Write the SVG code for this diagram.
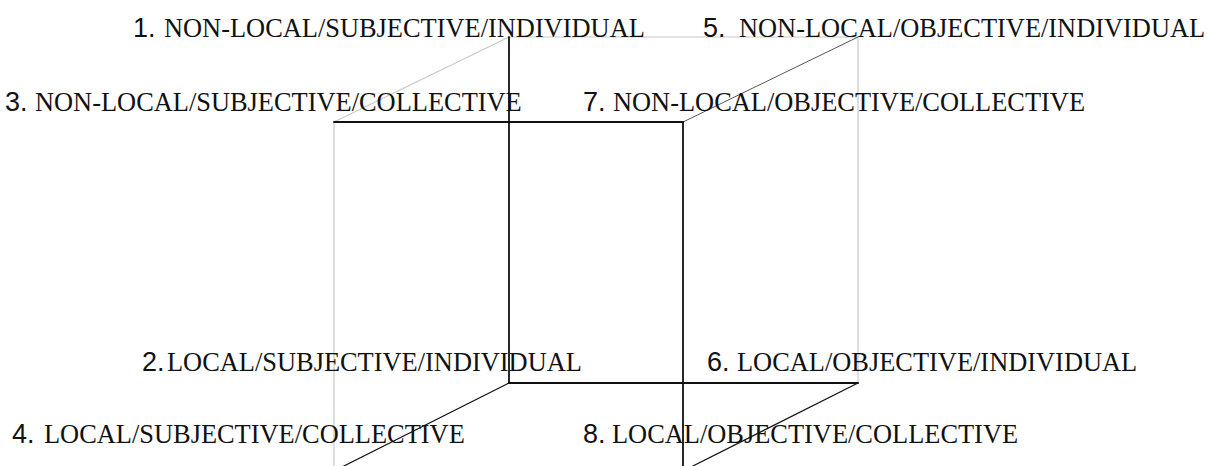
<svg xmlns="http://www.w3.org/2000/svg" width="1207" height="466" viewBox="0 0 1207 466">
<style>
.num{font-family:"Liberation Sans",Arial,sans-serif;font-size:27px;fill:#111}
.lbl{font-family:"Liberation Serif","Times New Roman",serif;font-size:26.4px;fill:#111}
.dk{stroke:#111;stroke-width:1.8;fill:none;stroke-linecap:round}
.md{stroke:#555;stroke-width:1;fill:none}
.lt{stroke:#c8c8c8;stroke-width:1.2;fill:none}
</style>
<rect width="1207" height="466" fill="#fff"/>
<g id="cube">
<line class="lt" x1="509" y1="37" x2="858" y2="37"/>
<line class="lt" x1="509" y1="37" x2="334" y2="122"/>
<line class="lt" x1="334" y1="122" x2="334" y2="466"/>
<line class="lt" x1="858" y1="37" x2="858" y2="383"/>
<line class="md" x1="683" y1="122" x2="858" y2="37"/>
<line class="dk" x1="334" y1="122" x2="683" y2="122"/>
<line class="dk" x1="509" y1="37" x2="509" y2="383"/>
<line class="dk" x1="683" y1="122" x2="683" y2="466"/>
<line class="dk" x1="509" y1="383" x2="858" y2="383"/>
<line class="dk" style="stroke-width:1.2" x1="509" y1="383" x2="334" y2="471"/>
<line class="dk" style="stroke-width:1.2" x1="858" y1="383" x2="683" y2="471"/>
</g>
<g id="label1"><text y="37"><tspan class="num" x="133">1.</tspan><tspan class="lbl" x="164">NON-LOCAL/SUBJECTIVE/INDIVIDUAL</tspan></text></g>
<g id="label5"><text y="37"><tspan class="num" x="703">5.</tspan><tspan class="lbl" x="739">NON-LOCAL/OBJECTIVE/INDIVIDUAL</tspan></text></g>
<g id="label3"><text y="111"><tspan class="num" x="5">3.</tspan><tspan class="lbl" x="35">NON-LOCAL/SUBJECTIVE/COLLECTIVE</tspan></text></g>
<g id="label7"><text y="111"><tspan class="num" x="583">7.</tspan><tspan class="lbl" x="613">NON-LOCAL/OBJECTIVE/COLLECTIVE</tspan></text></g>
<g id="label2"><text y="371"><tspan class="num" x="142">2.</tspan><tspan class="lbl" x="167">LOCAL/SUBJECTIVE/INDIVIDUAL</tspan></text></g>
<g id="label6"><text y="371"><tspan class="num" x="707">6.</tspan><tspan class="lbl" x="737">LOCAL/OBJECTIVE/INDIVIDUAL</tspan></text></g>
<g id="label4"><text y="443"><tspan class="num" x="12">4.</tspan><tspan class="lbl" x="44">LOCAL/SUBJECTIVE/COLLECTIVE</tspan></text></g>
<g id="label8"><text y="443"><tspan class="num" x="583">8.</tspan><tspan class="lbl" x="612">LOCAL/OBJECTIVE/COLLECTIVE</tspan></text></g>
</svg>
